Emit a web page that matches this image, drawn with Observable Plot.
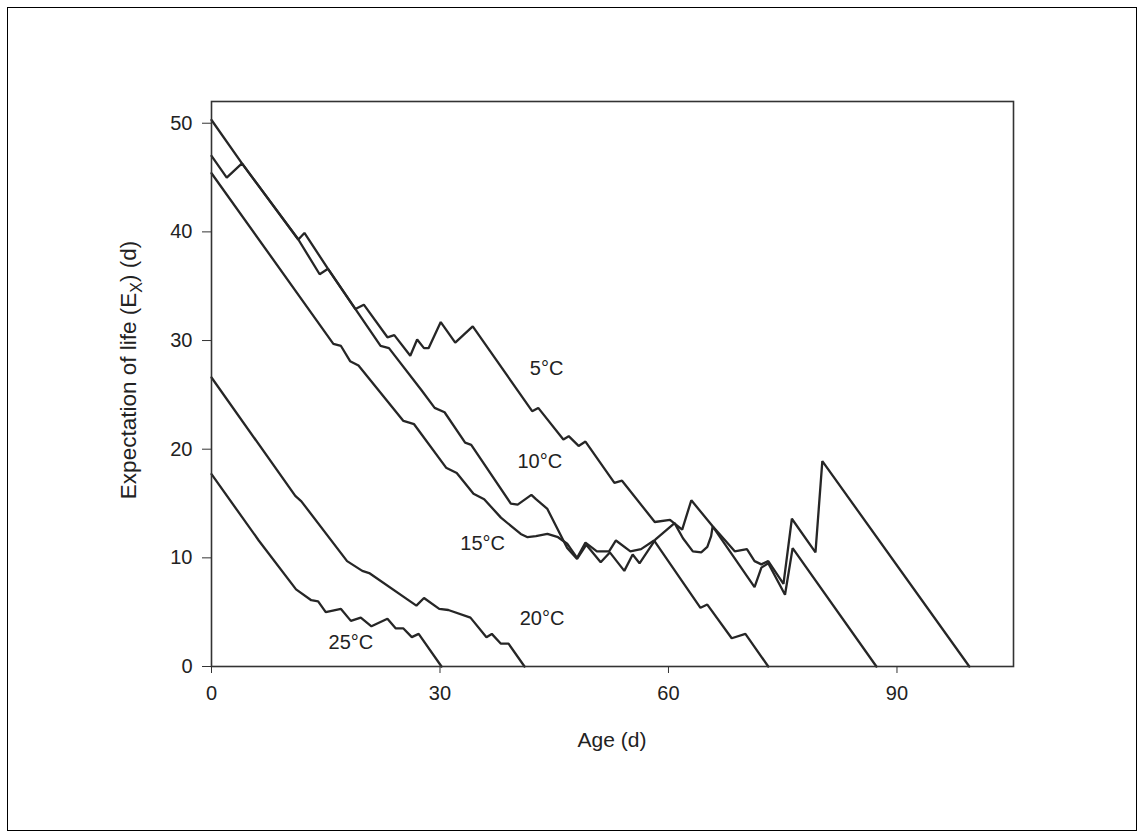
<!DOCTYPE html>
<html><head><meta charset="utf-8">
<script src="https://cdn.jsdelivr.net/npm/d3@7"></script>
<script src="https://cdn.jsdelivr.net/npm/@observablehq/plot@0.6"></script>
<style>
html,body{margin:0;padding:0;background:#fff;}
#page{position:relative;width:1145px;height:838px;overflow:hidden;background:#fff;}
#border{position:absolute;left:7px;top:7px;width:1128px;height:822px;border:1.5px solid #000;}
#chart{position:absolute;left:0;top:0;}
</style></head><body>
<div id="page"><div id="border"></div><div id="chart"></div></div>
<script>
// Age (days) and expectation of life (days) per temperature
const age5  = [0,4.0,11.4,12.2,15.3,18.9,20.0,23.1,24.0,26.1,27.0,27.9,28.5,30.1,32.0,34.3,42.1,42.9,46.2,46.9,48.2,49.1,52.9,53.9,58.2,60.2,61.8,63.0,65.8,68.7,70.3,71.3,72.2,73.1,75.1,76.2,79.3,80.2,99.5];
const ex5   = [50.3,46.3,39.3,39.9,36.6,32.9,33.3,30.3,30.5,28.6,30.1,29.3,29.3,31.7,29.8,31.3,23.5,23.8,20.9,21.2,20.3,20.7,16.9,17.1,13.3,13.5,12.6,15.3,12.9,10.6,10.8,9.7,9.4,9.7,7.6,13.6,10.5,18.9,0];
const age10 = [0,2.0,4.0,11.4,14.2,15.3,18.9,22.2,23.3,27.6,29.3,30.6,33.3,34.1,39.3,40.2,42.0,42.6,44.1,46.7,48.0,49.2,51.1,52.3,54.2,55.3,56.2,58.3,60.8,61.9,63.2,64.3,65.1,65.6,65.8,71.3,72.2,73.1,75.3,76.3,87.3];
const ex10  = [47.0,45.0,46.3,39.3,36.1,36.6,32.9,29.5,29.3,25.4,23.8,23.4,20.6,20.4,15.0,14.9,15.8,15.4,14.5,10.9,9.9,11.2,9.6,10.5,8.8,10.3,9.5,11.7,13.2,11.8,10.6,10.5,11.0,12.0,12.9,7.3,9.1,9.5,6.6,10.9,0];
const age15 = [0,16.0,17.0,18.2,19.3,25.2,26.6,30.8,32.2,34.4,35.8,38.0,40.6,41.5,42.6,44.1,45.5,46.7,48.0,49.1,50.6,52.2,53.1,55.0,56.4,58.1,64.2,65.1,68.3,70.1,73.1];
const ex15  = [45.4,29.7,29.5,28.1,27.7,22.6,22.3,18.3,17.8,15.9,15.4,13.7,12.2,11.9,12.0,12.2,11.9,11.3,10.0,11.4,10.6,10.6,11.6,10.6,10.8,11.6,5.4,5.7,2.6,3.0,0];
const age20 = [0,11.0,11.8,17.8,19.8,20.7,26.9,27.9,29.9,31.1,34.0,36.1,36.8,38.0,39.0,41.1];
const ex20  = [26.6,15.7,15.2,9.7,8.8,8.6,5.6,6.3,5.3,5.2,4.5,2.7,3.0,2.1,2.1,0];
const age25 = [0,6.2,11.1,13.1,14.0,15.0,17.0,18.3,19.6,21.0,23.1,24.2,25.2,26.3,27.2,30.2];
const ex25  = [17.7,11.6,7.1,6.1,6.0,5.0,5.3,4.2,4.5,3.7,4.4,3.5,3.5,2.7,3.0,0];

const seriesNames = ["5°C","10°C","15°C","20°C","25°C"];
const labelAge = [44.0, 43.1, 35.6, 43.4, 18.3];
const labelEx  = [27.4, 18.9, 11.3, 4.4, 2.2];
const xTicks = [0,30,60,90];
const yTicks = [0,10,20,30,40,50];

const ages = [age5, age10, age15, age20, age25];
const exs  = [ex5, ex10, ex15, ex20, ex25];
const rows = [];
seriesNames.forEach((s, k) => ages[k].forEach((a, i) => rows.push({series: s, age: a, ex: exs[k][i]})));
const labels = seriesNames.map((s, k) => ({t: s, x: labelAge[k], y: labelEx[k]}));

const font = "'Liberation Sans', Arial, Helvetica, sans-serif";
const chart = Plot.plot({
  width: 1145, height: 838,
  marginLeft: 211, marginRight: 132, marginTop: 101, marginBottom: 172,
  style: {fontFamily: font, fontSize: "20px", color: "#222", background: "transparent", overflow: "visible"},
  x: {domain: [0, 105.3], label: null},
  y: {domain: [0, 52], label: null},
  marks: [
    Plot.axisX({ticks: xTicks, tickSize: 7, tickPadding: 12, label: null, fontSize: 20, stroke: "#333"}),
    Plot.axisY({ticks: yTicks, tickSize: 9, tickPadding: 10, label: null, fontSize: 20, stroke: "#333"}),
    Plot.line(rows, {x: "age", y: "ex", z: "series", stroke: "#262626", strokeWidth: 2.3, strokeLinejoin: "miter", curve: "linear"}),
    Plot.text(labels, {x: "x", y: "y", text: "t", fontSize: 20, fill: "#222"}),
    Plot.frame({stroke: "#333", strokeWidth: 1.6})
  ]
});
document.getElementById("chart").appendChild(chart);

const svg = d3.select(chart);
svg.append("text")
  .attr("x", 612).attr("y", 747)
  .attr("text-anchor", "middle")
  .attr("font-family", font).attr("font-size", 21).attr("fill", "#222")
  .text("Age (d)");
const yl = svg.append("text")
  .attr("transform", "translate(136,370) rotate(-90)")
  .attr("text-anchor", "middle")
  .attr("font-family", font).attr("font-size", 22.5).attr("fill", "#222");
yl.append("tspan").text("Expectation of life (E");
yl.append("tspan").attr("font-size", 16).attr("dy", 6).text("X");
yl.append("tspan").attr("dy", -6).text(") (d)");
</script>
</body></html>
